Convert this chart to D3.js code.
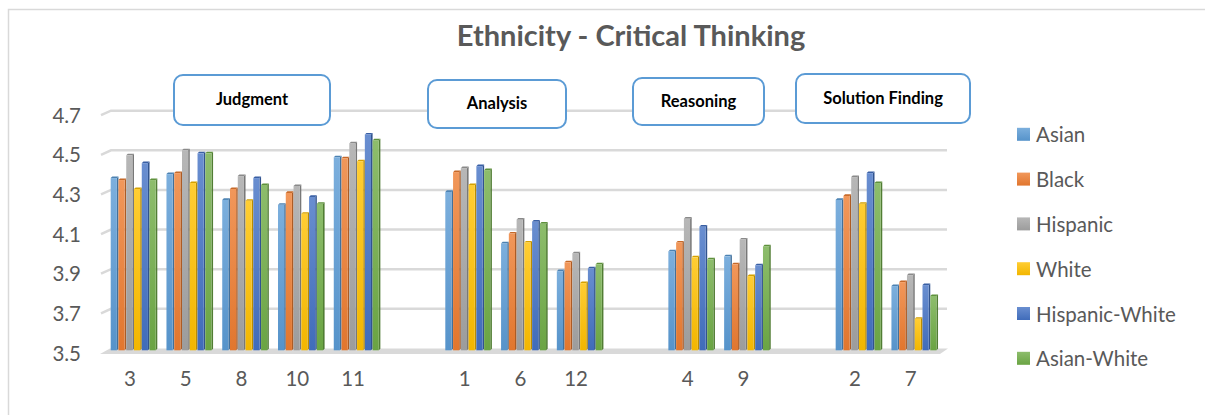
<!DOCTYPE html>
<html><head><meta charset="utf-8">
<script src="https://cdn.jsdelivr.net/npm/d3@7"></script>
<style>body{margin:0;background:#fff;} svg{display:block;font-family:Lato,"Open Sans",sans-serif;}</style>
</head><body>
<svg id="c" width="1205" height="415"></svg>
<script>
const title = "Ethnicity - Critical Thinking";
const categories = ["3","5","8","10","11","1","6","12","4","9","2","7"];
const groupCats = [["3","5","8","10","11"],["1","6","12"],["4","9"],["2","7"]];
const groupLabels = ["Judgment","Analysis","Reasoning","Solution Finding"];
const seriesNames = ["Asian","Black","Hispanic","White","Hispanic-White","Asian-White"];
const seriesColors = ["#5B9BD5","#ED7D31","#A5A5A5","#FFC000","#4472C4","#70AD47"];
const asian    = [4.36,4.38,4.25,4.225,4.465,4.29,4.03,3.89,3.99,3.965,4.25,3.815];
const black    = [4.35,4.385,4.305,4.285,4.46,4.39,4.08,3.935,4.035,3.925,4.27,3.835];
const hispanic = [4.475,4.50,4.37,4.32,4.535,4.41,4.15,3.98,4.155,4.05,4.365,3.87];
const white    = [4.305,4.335,4.245,4.18,4.445,4.325,4.035,3.83,3.96,3.865,4.23,3.65];
const hispWhite= [4.435,4.485,4.36,4.265,4.58,4.42,4.14,3.905,4.115,3.92,4.385,3.82];
const asianWhite=[4.35,4.485,4.325,4.23,4.55,4.40,4.13,3.925,3.95,4.015,4.335,3.765];
const seriesValues = [asian,black,hispanic,white,hispWhite,asianWhite];
const yTicks = [3.5,3.7,3.9,4.1,4.3,4.5,4.7];

const svg = d3.select("#c");
const defs = svg.append("defs");
seriesColors.forEach((c,i)=>{
  const g = defs.append("linearGradient").attr("id","g"+i).attr("x1",0).attr("y1",0).attr("x2",0).attr("y2",1);
  g.append("stop").attr("offset","0%").attr("stop-color", d3.interpolateRgb(c,"#fff")(0.2));
  g.append("stop").attr("offset","100%").attr("stop-color", d3.color(c).darker(0.15));
});

// frame
svg.append("rect").attr("x",8.5).attr("y",9.5).attr("width",1205).attr("height",420)
  .attr("fill","none").attr("stroke","#d9d9d9").attr("stroke-width",1.5);

// slots with gaps between groups
const slots = [];
groupCats.forEach((g,i)=>{ g.forEach(c=>slots.push(c)); if(i<groupCats.length-1) slots.push("gap"+i); });

const x = d3.scaleBand().domain(slots).range([102.1,938.6]).paddingInner(0);
const y = d3.scaleLinear().domain([3.5,4.7]).range([348.5,110.7]);
const xs = d3.scaleBand().domain(seriesNames).range([8.6,55.2]);
const dep = 1.6;

// gridlines
const grid = svg.append("g");
yTicks.slice(1).forEach(t=>{
  grid.append("path").attr("d",`M101,${y(t)+4.5}L111,${y(t)}L947,${y(t)}`)
    .attr("fill","none").attr("stroke","#d9d9d9").attr("stroke-width",2.5);
});
// floor
const fy = y(3.5);
svg.append("path").attr("d",`M100,${fy+5.5}L110,${fy}L948,${fy}L940,${fy+5.5}Z`)
  .attr("fill","#d9d9d9");

// y axis
const ya = svg.append("g").attr("transform","translate(81,5)")
  .call(d3.axisLeft(y).tickValues(yTicks).tickFormat(d3.format(".1f")).tickSize(0).tickPadding(0));
ya.select(".domain").remove();
ya.selectAll("text").attr("fill","#595959").style("font-size","20.5px").style("font-family","Lato");

// x axis
const xa = svg.append("g").attr("transform","translate(0,371)")
  .call(d3.axisBottom(x).tickFormat(d=>d.startsWith("gap")?"":d).tickSize(0).tickPadding(0));
xa.select(".domain").remove();
xa.selectAll("text").attr("fill","#595959").style("font-size","20.5px").style("font-family","Lato");

// bars
const bars = svg.append("g");
seriesNames.forEach((s,si)=>{
  const col = seriesColors[si];
  const side = d3.color(col).darker(0.9);
  const top = d3.color(col).darker(0.5);
  const w = xs.bandwidth()-dep;
  categories.forEach((c,ci)=>{
    const v = seriesValues[si][ci];
    const x0 = x(c)+xs(s), yt = y(v), yb = y(3.5)+1.8;
    const g = bars.append("g");
    g.append("path").attr("d",`M${x0+w},${yt}L${x0+w+dep},${yt-dep}L${x0+w+dep},${yb-dep}L${x0+w},${yb}Z`).attr("fill",side);
    g.append("path").attr("d",`M${x0},${yt}L${x0+dep},${yt-dep}L${x0+w+dep},${yt-dep}L${x0+w},${yt}Z`).attr("fill",top);
    g.append("rect").attr("x",x0).attr("y",yt).attr("width",w).attr("height",yb-yt).attr("fill",`url(#g${si})`);
  });
});

// title
svg.append("text").attr("x",631).attr("y",46).attr("text-anchor","middle")
  .attr("fill","#595959").style("font-size","29px").style("font-weight","bold").text(title);

// group label boxes
const boxes = [[174,75,156,50],[428,80,138,48],[633,78,131,47],[796,74,174,49]];
groupLabels.forEach((lab,i)=>{
  const b = boxes[i];
  svg.append("rect").attr("x",b[0]).attr("y",b[1]).attr("width",b[2]).attr("height",b[3]).attr("rx",9)
    .attr("fill","#fff").attr("stroke","#5B9BD5").attr("stroke-width",2);
  svg.append("text").attr("x",b[0]+b[2]/2).attr("y",b[1]+b[3]/2+1).attr("text-anchor","middle")
    .attr("dominant-baseline","middle").attr("fill","#000").style("font-size","16.5px").style("font-weight","bold").text(lab);
});

// legend
const lg = svg.append("g");
seriesNames.forEach((s,i)=>{
  const cy = 134.3 + i*44.8;
  lg.append("rect").attr("x",1017).attr("y",cy-6.5).attr("width",13).attr("height",13).attr("fill",`url(#g${i})`);
  lg.append("text").attr("x",1036).attr("y",cy).attr("dominant-baseline","central")
    .attr("fill","#595959").style("font-size","20.5px").text(s);
});
</script>
</body></html>
